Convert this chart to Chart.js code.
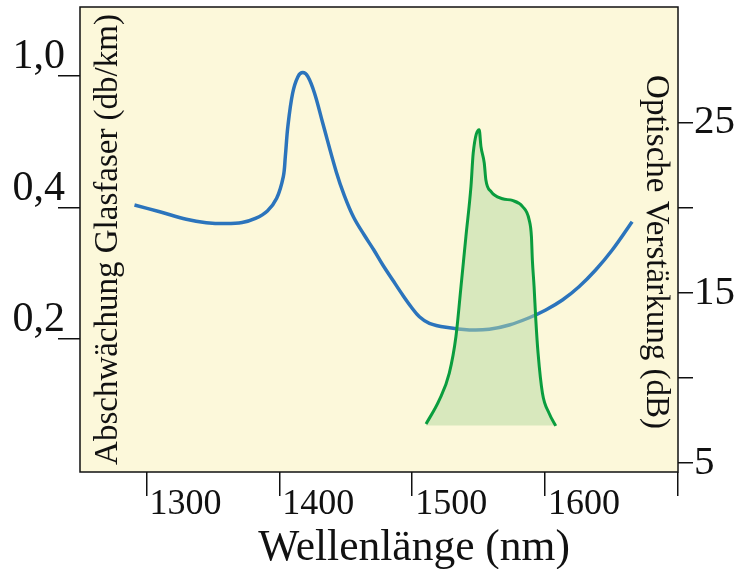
<!DOCTYPE html>
<html>
<head>
<meta charset="utf-8">
<script src="https://cdn.jsdelivr.net/npm/chart.js@4/dist/chart.umd.min.js"></script>
<style>
  html, body { margin: 0; padding: 0; background: #fff; }
  canvas { display: block; }
</style>
</head>
<body>
<canvas id="chart" width="752" height="569"></canvas>
<script>
// --- data ---

// fibre loss curve (left axis, plotted in tick-position units: 1 = 0,2 / 2 = 0,4 / 3 = 1,0)
const lossWavelength = [1291, 1310, 1330, 1345, 1360, 1372, 1382, 1391, 1398, 1403, 1404.5, 1406.4, 1410, 1414, 1417.7, 1421.5, 1426.5, 1432.7, 1442.8, 1449, 1456, 1464, 1471, 1478, 1485.3, 1492.8, 1499.1, 1505.4, 1512.9, 1525.4, 1543, 1558, 1573, 1588, 1600.5, 1613, 1625.5, 1638, 1650.5, 1665.5];
const lossValues = [2.02, 1.969, 1.912, 1.886, 1.879, 1.887, 1.918, 1.975, 2.071, 2.236, 2.388, 2.616, 2.87, 2.996, 3.027, 2.996, 2.87, 2.642, 2.274, 2.09, 1.925, 1.79, 1.68, 1.562, 1.45, 1.336, 1.247, 1.171, 1.121, 1.09, 1.07, 1.075, 1.108, 1.163, 1.222, 1.298, 1.399, 1.526, 1.678, 1.893];

// amplifier gain curve (right axis, dB)
const gainWavelength = [1510.4, 1520.4, 1527.9, 1532.9, 1536.7, 1540.4, 1544.2, 1545.9, 1550.4, 1551.7, 1554.2, 1555.4, 1559.2, 1567.9, 1575.4, 1582.9, 1588, 1589.7, 1590.4, 1591.7, 1593, 1594.7, 1598, 1603, 1608];
const gainValues = [7.29, 8.71, 10.28, 12.43, 15.37, 18.31, 21.25, 23.22, 24.59, 23.61, 22.63, 21.65, 20.96, 20.53, 20.43, 20.08, 19.29, 18.31, 16.94, 15.37, 13.41, 11.45, 9.1, 7.92, 7.18];
const gainBase = 7.2;

// axes
const wavelengthTicks = [1300, 1400, 1500, 1600, 1700];
const wavelengthLabels = ['1300', '1400', '1500', '1600', ''];
const lossTicks = [1, 2, 3];
const lossLabels = ['0,2', '0,4', '1,0'];
const gainTicks = [5, 10, 15, 20, 25];
const gainLabels = ['5', '', '15', '', '25'];

const xTitle = 'Wellenlänge (nm)';
const lossTitle = 'Abschwächung Glasfaser (db/km)';
const gainTitle = 'Optische Verstärkung (dB)';

const SERIF = '"Liberation Serif", "Times New Roman", serif';
const INK = '#111';

// === plot frame + in-plot titles ===

const frame = {
  id: 'frame',
  beforeDatasetsDraw(chart) {
    const { ctx, chartArea: a } = chart;
    ctx.save();
    ctx.fillStyle = '#fcf8da';
    ctx.fillRect(a.left, a.top, a.right - a.left, a.bottom - a.top);
    ctx.restore();
  },
  afterDraw(chart) {
    const { ctx, chartArea: a } = chart;
    ctx.save();
    ctx.strokeStyle = INK;
    ctx.lineWidth = 1.5;
    ctx.strokeRect(a.left, a.top, a.right - a.left, a.bottom - a.top);

    ctx.fillStyle = INK;
    ctx.textBaseline = 'alphabetic';
    ctx.textAlign = 'center';
    ctx.font = '43.5px ' + SERIF;
    ctx.fillText(xTitle, a.left + 334, a.bottom + 88);

    ctx.font = '33px ' + SERIF;
    ctx.save();
    ctx.translate(a.left + 37, (a.top + a.bottom) / 2);
    ctx.rotate(-Math.PI / 2);
    ctx.fillText(lossTitle, 0, 0);
    ctx.restore();

    ctx.save();
    ctx.translate(a.right - 31, a.top + 245);
    ctx.rotate(Math.PI / 2);
    ctx.fillText(gainTitle, 0, 0);
    ctx.restore();
    ctx.restore();
  },
};

function fixedTicks(values) {
  return (scale) => { scale.ticks = values.map((v) => ({ value: v })); };
}

// pin the scale boxes so the plot area lands where the reference has it
function fitTo(size) {
  return (s) => {
    if (s.isHorizontal()) s.height = size; else s.width = size;
    s.paddingTop = 0;
    s.paddingBottom = 0;
    s.paddingLeft = 0;
    s.paddingRight = 0;
  };
}

const tickGrid = (len) => ({
  drawOnChartArea: false,
  drawTicks: true,
  tickLength: len,
  color: INK,
  lineWidth: 1.5,
});

new Chart(document.getElementById('chart'), {
  type: 'line',
  data: {
    datasets: [
      {
        label: 'Verstärkung',
        data: gainWavelength.map((x, i) => ({ x, y: gainValues[i] })),
        yAxisID: 'y1',
        borderColor: '#0a9d3e',
        borderWidth: 3,
        backgroundColor: 'rgba(180, 215, 160, 0.5)',
        fill: { target: { value: gainBase } },
        pointRadius: 0,
        cubicInterpolationMode: 'monotone',
      },
      {
        label: 'Abschwächung',
        data: lossWavelength.map((x, i) => ({ x, y: lossValues[i] })),
        yAxisID: 'y',
        borderColor: '#2b74bc',
        borderWidth: 3.5,
        pointRadius: 0,
        fill: false,
        tension: 0.35,
      },
    ],
  },
  options: {
    responsive: false,
    animation: false,
    layout: { padding: { top: 7, left: 0, right: 0, bottom: 0 } },
    plugins: { legend: { display: false }, tooltip: { enabled: false } },
    scales: {
      x: {
        type: 'linear',
        position: 'bottom',
        min: 1250,
        max: 1700,
        afterBuildTicks: fixedTicks(wavelengthTicks),
        afterFit: fitTo(97),
        grid: tickGrid(24),
        border: { display: false },
        ticks: {
          align: 'start',
          labelOffset: 3,
          padding: -13,
          maxRotation: 0,
          autoSkip: false,
          color: INK,
          font: { family: SERIF, size: 36 },
          callback: (v, i) => wavelengthLabels[i],
        },
      },
      y: {
        type: 'linear',
        position: 'left',
        min: -0.01,
        max: 3.526,
        afterBuildTicks: fixedTicks(lossTicks),
        afterFit: fitTo(80),
        grid: tickGrid(22),
        border: { display: false },
        ticks: {
          padding: -7,
          labelOffset: -19,
          autoSkip: false,
          color: INK,
          font: { family: SERIF, size: 42 },
          callback: (v, i) => lossLabels[i],
        },
      },
      y1: {
        type: 'linear',
        position: 'right',
        min: 4.47,
        max: 31.8,
        afterBuildTicks: fixedTicks(gainTicks),
        afterFit: fitTo(74),
        grid: tickGrid(15),
        border: { display: false },
        ticks: {
          padding: 1,
          autoSkip: false,
          color: INK,
          font: { family: SERIF, size: 41 },
          callback: (v, i) => gainLabels[i],
        },
      },
    },
  },
  plugins: [frame],
});
</script>
</body>
</html>
